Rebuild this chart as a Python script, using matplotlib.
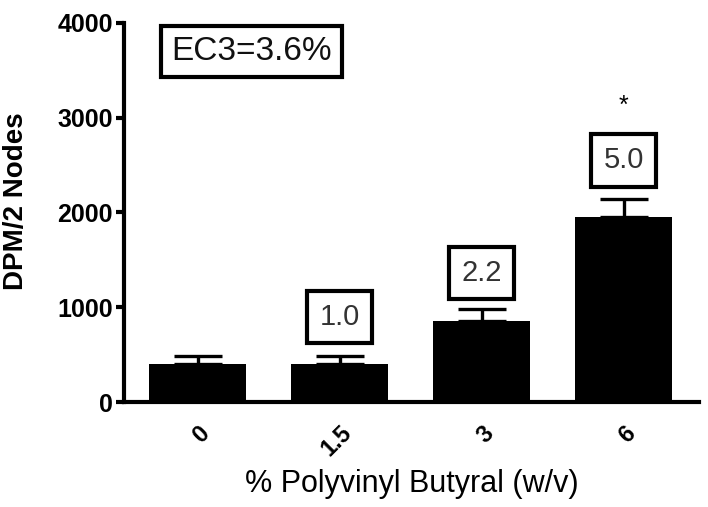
import matplotlib
matplotlib.use("Agg")
import matplotlib.pyplot as plt
import numpy as np

plt.rcParams['font.family'] = ['Liberation Sans', 'DejaVu Sans']

categories = ["0", "1.5", "3", "6"]
means = [400, 400, 860, 1950]
errors = [90, 90, 120, 190]
ratio_labels = [None, "1.0", "2.2", "5.0"]
ratio_label_y = [None, 895, 1360, 2550]
star_y = 3120
ec3_text = "EC3=3.6%"

fig = plt.figure(figsize=(7.08, 5.07), dpi=100)
ax = fig.add_axes([0.175, 0.207, 0.812, 0.748])

x = np.arange(len(categories))
ax.bar(x, means, width=0.68, color='black', zorder=2)
ax.errorbar(x, means, yerr=[np.zeros(len(errors)), errors], fmt='none',
            ecolor='black', elinewidth=2.4, capsize=17, capthick=2.4, zorder=1)

for xi, lab, ly in zip(x, ratio_labels, ratio_label_y):
    if lab is None:
        continue
    ax.text(xi, ly, lab, ha='center', va='center', fontsize=21, color='#333333',
            bbox=dict(boxstyle='square,pad=0.42', fc='white', ec='black', lw=3))

ax.text(x[-1], star_y, "*", ha='center', va='center', fontsize=18, color='black')

ax.text(0.38, 3695, ec3_text, ha='center', va='center', fontsize=24, color='#111111',
        bbox=dict(boxstyle='square,pad=0.3', fc='white', ec='black', lw=3))

ax.set_xlim(-0.52, 3.53)
ax.set_ylim(0, 4000)
ax.set_yticks([0, 1000, 2000, 3000, 4000])
ax.set_xticks(x)
ax.set_xticklabels(categories, rotation=45, ha='right', rotation_mode='anchor',
                   fontsize=17, fontweight='bold')
for lbl in ax.get_yticklabels():
    lbl.set_fontweight('bold')
    lbl.set_fontsize(18)

ax.spines['top'].set_visible(False)
ax.spines['right'].set_visible(False)
ax.spines['left'].set_linewidth(3)
ax.spines['bottom'].set_linewidth(3)
ax.tick_params(axis='y', length=6, width=3, pad=2)
ax.tick_params(axis='x', length=0, pad=14)

ax.set_ylabel("DPM/2 Nodes", fontsize=20, fontweight='bold', labelpad=6)
ax.yaxis.set_label_coords(-0.165, 0.53)
ax.set_xlabel("% Polyvinyl Butyral (w/v)", fontsize=22, labelpad=6)

fig.savefig("out.png", dpi=100)
